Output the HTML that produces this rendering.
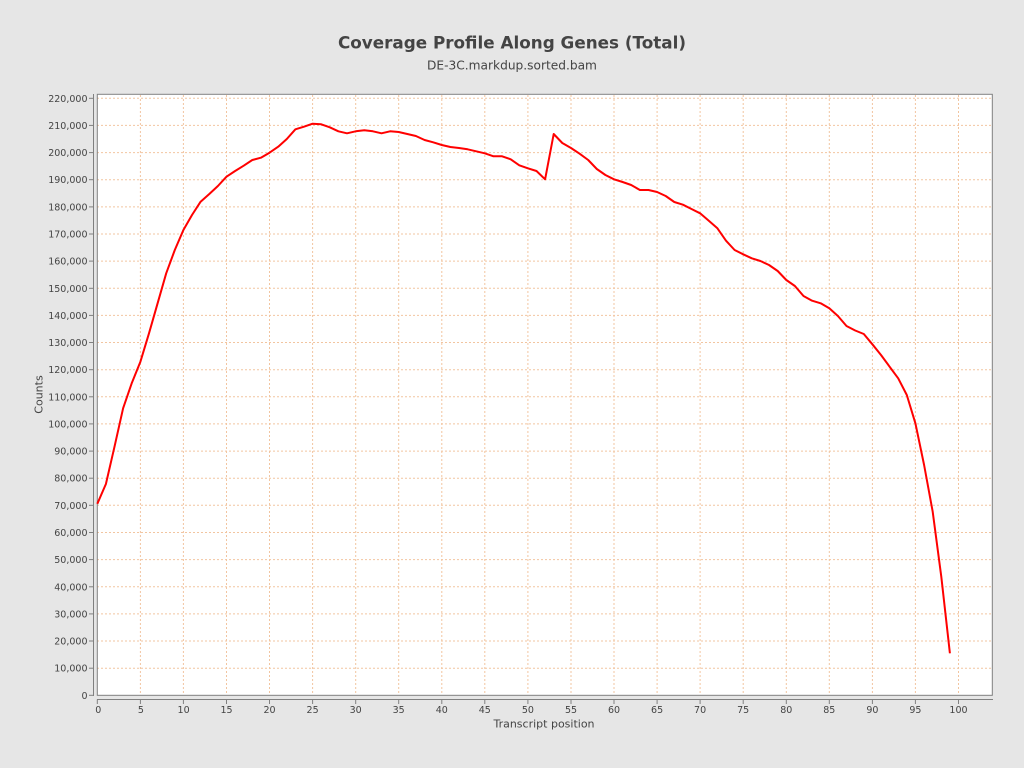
<!DOCTYPE html>
<html><head><meta charset="utf-8"><style>
html,body{margin:0;padding:0;background:#e6e6e6;}
svg{display:block;}
text{font-family:"DejaVu Sans","Liberation Sans",sans-serif;fill:#444;}
</style></head><body>
<svg width="1024" height="768" viewBox="0 0 1024 768" xmlns="http://www.w3.org/2000/svg">
<rect x="0" y="0" width="1024" height="768" fill="#e6e6e6"/>
<text x="512" y="48.5" text-anchor="middle" font-size="16.8" font-weight="bold">Coverage Profile Along Genes (Total)</text>
<text x="512" y="69.5" text-anchor="middle" font-size="12.2">DE-3C.markdup.sorted.bam</text>
<rect x="97.3" y="94.3" width="895" height="601" fill="#ffffff"/>
<g stroke="#f2c5a0" stroke-width="1" stroke-dasharray="2,2" fill="none">
<line x1="97" x2="992" y1="668.2" y2="668.2"/>
<line x1="97" x2="992" y1="641.0" y2="641.0"/>
<line x1="97" x2="992" y1="613.9" y2="613.9"/>
<line x1="97" x2="992" y1="586.8" y2="586.8"/>
<line x1="97" x2="992" y1="559.6" y2="559.6"/>
<line x1="97" x2="992" y1="532.5" y2="532.5"/>
<line x1="97" x2="992" y1="505.3" y2="505.3"/>
<line x1="97" x2="992" y1="478.2" y2="478.2"/>
<line x1="97" x2="992" y1="451.1" y2="451.1"/>
<line x1="97" x2="992" y1="423.9" y2="423.9"/>
<line x1="97" x2="992" y1="396.8" y2="396.8"/>
<line x1="97" x2="992" y1="369.7" y2="369.7"/>
<line x1="97" x2="992" y1="342.5" y2="342.5"/>
<line x1="97" x2="992" y1="315.4" y2="315.4"/>
<line x1="97" x2="992" y1="288.3" y2="288.3"/>
<line x1="97" x2="992" y1="261.1" y2="261.1"/>
<line x1="97" x2="992" y1="234.0" y2="234.0"/>
<line x1="97" x2="992" y1="206.9" y2="206.9"/>
<line x1="97" x2="992" y1="179.7" y2="179.7"/>
<line x1="97" x2="992" y1="152.6" y2="152.6"/>
<line x1="97" x2="992" y1="125.4" y2="125.4"/>
<line x1="97" x2="992" y1="98.3" y2="98.3"/>
<line y1="95" y2="695" x1="140.4" x2="140.4"/>
<line y1="95" y2="695" x1="183.4" x2="183.4"/>
<line y1="95" y2="695" x1="226.5" x2="226.5"/>
<line y1="95" y2="695" x1="269.5" x2="269.5"/>
<line y1="95" y2="695" x1="312.6" x2="312.6"/>
<line y1="95" y2="695" x1="355.7" x2="355.7"/>
<line y1="95" y2="695" x1="398.7" x2="398.7"/>
<line y1="95" y2="695" x1="441.8" x2="441.8"/>
<line y1="95" y2="695" x1="484.8" x2="484.8"/>
<line y1="95" y2="695" x1="527.9" x2="527.9"/>
<line y1="95" y2="695" x1="571.0" x2="571.0"/>
<line y1="95" y2="695" x1="614.0" x2="614.0"/>
<line y1="95" y2="695" x1="657.1" x2="657.1"/>
<line y1="95" y2="695" x1="700.1" x2="700.1"/>
<line y1="95" y2="695" x1="743.2" x2="743.2"/>
<line y1="95" y2="695" x1="786.3" x2="786.3"/>
<line y1="95" y2="695" x1="829.3" x2="829.3"/>
<line y1="95" y2="695" x1="872.4" x2="872.4"/>
<line y1="95" y2="695" x1="915.4" x2="915.4"/>
<line y1="95" y2="695" x1="958.5" x2="958.5"/>
</g>
<rect x="97.3" y="94.3" width="895" height="601" fill="none" stroke="#808080" stroke-width="1"/>
<polyline fill="none" stroke="#ff0000" stroke-width="2" stroke-linejoin="round" points="97.3,503.8 105.9,484 114.5,446.7 123.1,408.3 131.7,383.3 140.4,361.7 149.0,333.3 157.6,303.3 166.2,273.3 174.8,250 183.4,230 192.0,215 200.6,201.7 209.3,194 217.9,186 226.5,176.7 235.1,171 243.7,165.7 252.3,160 260.9,157.7 269.5,152.7 278.2,146.7 286.8,139 295.4,129.3 304.0,126.7 312.6,123.7 321.2,124.3 329.8,127.3 338.4,131.3 347.0,133.3 355.7,131.3 364.3,130.3 372.9,131.3 381.5,133.3 390.1,131.3 398.7,132 407.3,134 415.9,136 424.6,140 433.2,142.3 441.8,145 450.4,147 459.0,148 467.6,149.3 476.2,151.3 484.8,153.3 493.5,156.3 502.1,156.3 510.7,159.3 519.3,165.3 527.9,168.3 536.5,171 545.1,179.3 553.7,134 562.3,143 571.0,148 579.6,153.7 588.2,160 596.8,169 605.4,175 614.0,179.3 622.6,182 631.2,185 639.9,190 648.5,190 657.1,192 665.7,196 674.3,202 682.9,204.7 691.5,209 700.1,213.3 708.8,220.7 717.4,228.3 726.0,240.7 734.6,250 743.2,254.3 751.8,258.3 760.4,261 769.0,265 777.7,271 786.3,280 794.9,286 803.5,296 812.1,300.7 820.7,303.3 829.3,308.3 837.9,316 846.5,326 855.2,330.5 863.8,334 872.4,344.3 881.0,355 889.6,366.7 898.2,378.3 906.8,395 915.4,423.3 924.1,465 932.7,511.7 941.3,576.7 949.9,653.3"/>
<g stroke="#808080" stroke-width="1" fill="none">
<line x1="93.5" x2="93.5" y1="94" y2="696"/>
<line x1="97" x2="993" y1="699.5" y2="699.5"/>
<line x1="89" x2="93.5" y1="695.3" y2="695.3"/>
<line x1="89" x2="93.5" y1="668.2" y2="668.2"/>
<line x1="89" x2="93.5" y1="641.0" y2="641.0"/>
<line x1="89" x2="93.5" y1="613.9" y2="613.9"/>
<line x1="89" x2="93.5" y1="586.8" y2="586.8"/>
<line x1="89" x2="93.5" y1="559.6" y2="559.6"/>
<line x1="89" x2="93.5" y1="532.5" y2="532.5"/>
<line x1="89" x2="93.5" y1="505.3" y2="505.3"/>
<line x1="89" x2="93.5" y1="478.2" y2="478.2"/>
<line x1="89" x2="93.5" y1="451.1" y2="451.1"/>
<line x1="89" x2="93.5" y1="423.9" y2="423.9"/>
<line x1="89" x2="93.5" y1="396.8" y2="396.8"/>
<line x1="89" x2="93.5" y1="369.7" y2="369.7"/>
<line x1="89" x2="93.5" y1="342.5" y2="342.5"/>
<line x1="89" x2="93.5" y1="315.4" y2="315.4"/>
<line x1="89" x2="93.5" y1="288.3" y2="288.3"/>
<line x1="89" x2="93.5" y1="261.1" y2="261.1"/>
<line x1="89" x2="93.5" y1="234.0" y2="234.0"/>
<line x1="89" x2="93.5" y1="206.9" y2="206.9"/>
<line x1="89" x2="93.5" y1="179.7" y2="179.7"/>
<line x1="89" x2="93.5" y1="152.6" y2="152.6"/>
<line x1="89" x2="93.5" y1="125.4" y2="125.4"/>
<line x1="89" x2="93.5" y1="98.3" y2="98.3"/>
<line y1="699.5" y2="704" x1="97.3" x2="97.3"/>
<line y1="699.5" y2="704" x1="140.4" x2="140.4"/>
<line y1="699.5" y2="704" x1="183.4" x2="183.4"/>
<line y1="699.5" y2="704" x1="226.5" x2="226.5"/>
<line y1="699.5" y2="704" x1="269.5" x2="269.5"/>
<line y1="699.5" y2="704" x1="312.6" x2="312.6"/>
<line y1="699.5" y2="704" x1="355.7" x2="355.7"/>
<line y1="699.5" y2="704" x1="398.7" x2="398.7"/>
<line y1="699.5" y2="704" x1="441.8" x2="441.8"/>
<line y1="699.5" y2="704" x1="484.8" x2="484.8"/>
<line y1="699.5" y2="704" x1="527.9" x2="527.9"/>
<line y1="699.5" y2="704" x1="571.0" x2="571.0"/>
<line y1="699.5" y2="704" x1="614.0" x2="614.0"/>
<line y1="699.5" y2="704" x1="657.1" x2="657.1"/>
<line y1="699.5" y2="704" x1="700.1" x2="700.1"/>
<line y1="699.5" y2="704" x1="743.2" x2="743.2"/>
<line y1="699.5" y2="704" x1="786.3" x2="786.3"/>
<line y1="699.5" y2="704" x1="829.3" x2="829.3"/>
<line y1="699.5" y2="704" x1="872.4" x2="872.4"/>
<line y1="699.5" y2="704" x1="915.4" x2="915.4"/>
<line y1="699.5" y2="704" x1="958.5" x2="958.5"/>
</g>
<g font-size="9.5" text-anchor="end">
<text x="87.5" y="698.8">0</text>
<text x="87.5" y="671.7">10,000</text>
<text x="87.5" y="644.5">20,000</text>
<text x="87.5" y="617.4">30,000</text>
<text x="87.5" y="590.3">40,000</text>
<text x="87.5" y="563.1">50,000</text>
<text x="87.5" y="536.0">60,000</text>
<text x="87.5" y="508.8">70,000</text>
<text x="87.5" y="481.7">80,000</text>
<text x="87.5" y="454.6">90,000</text>
<text x="87.5" y="427.4">100,000</text>
<text x="87.5" y="400.3">110,000</text>
<text x="87.5" y="373.2">120,000</text>
<text x="87.5" y="346.0">130,000</text>
<text x="87.5" y="318.9">140,000</text>
<text x="87.5" y="291.8">150,000</text>
<text x="87.5" y="264.6">160,000</text>
<text x="87.5" y="237.5">170,000</text>
<text x="87.5" y="210.4">180,000</text>
<text x="87.5" y="183.2">190,000</text>
<text x="87.5" y="156.1">200,000</text>
<text x="87.5" y="128.9">210,000</text>
<text x="87.5" y="101.8">220,000</text>
</g>
<g font-size="9.5" text-anchor="middle">
<text x="98.3" y="713">0</text>
<text x="140.9" y="713">5</text>
<text x="183.6" y="713">10</text>
<text x="226.5" y="713">15</text>
<text x="269.5" y="713">20</text>
<text x="312.6" y="713">25</text>
<text x="355.7" y="713">30</text>
<text x="398.7" y="713">35</text>
<text x="441.8" y="713">40</text>
<text x="484.8" y="713">45</text>
<text x="527.9" y="713">50</text>
<text x="571.0" y="713">55</text>
<text x="614.0" y="713">60</text>
<text x="657.1" y="713">65</text>
<text x="700.1" y="713">70</text>
<text x="743.2" y="713">75</text>
<text x="786.3" y="713">80</text>
<text x="829.3" y="713">85</text>
<text x="872.4" y="713">90</text>
<text x="915.4" y="713">95</text>
<text x="958.5" y="713">100</text>
</g>
<text x="544" y="727.5" text-anchor="middle" font-size="11">Transcript position</text>
<text transform="translate(42.5,394.5) rotate(-90)" text-anchor="middle" font-size="11">Counts</text>
</svg>
</body></html>
